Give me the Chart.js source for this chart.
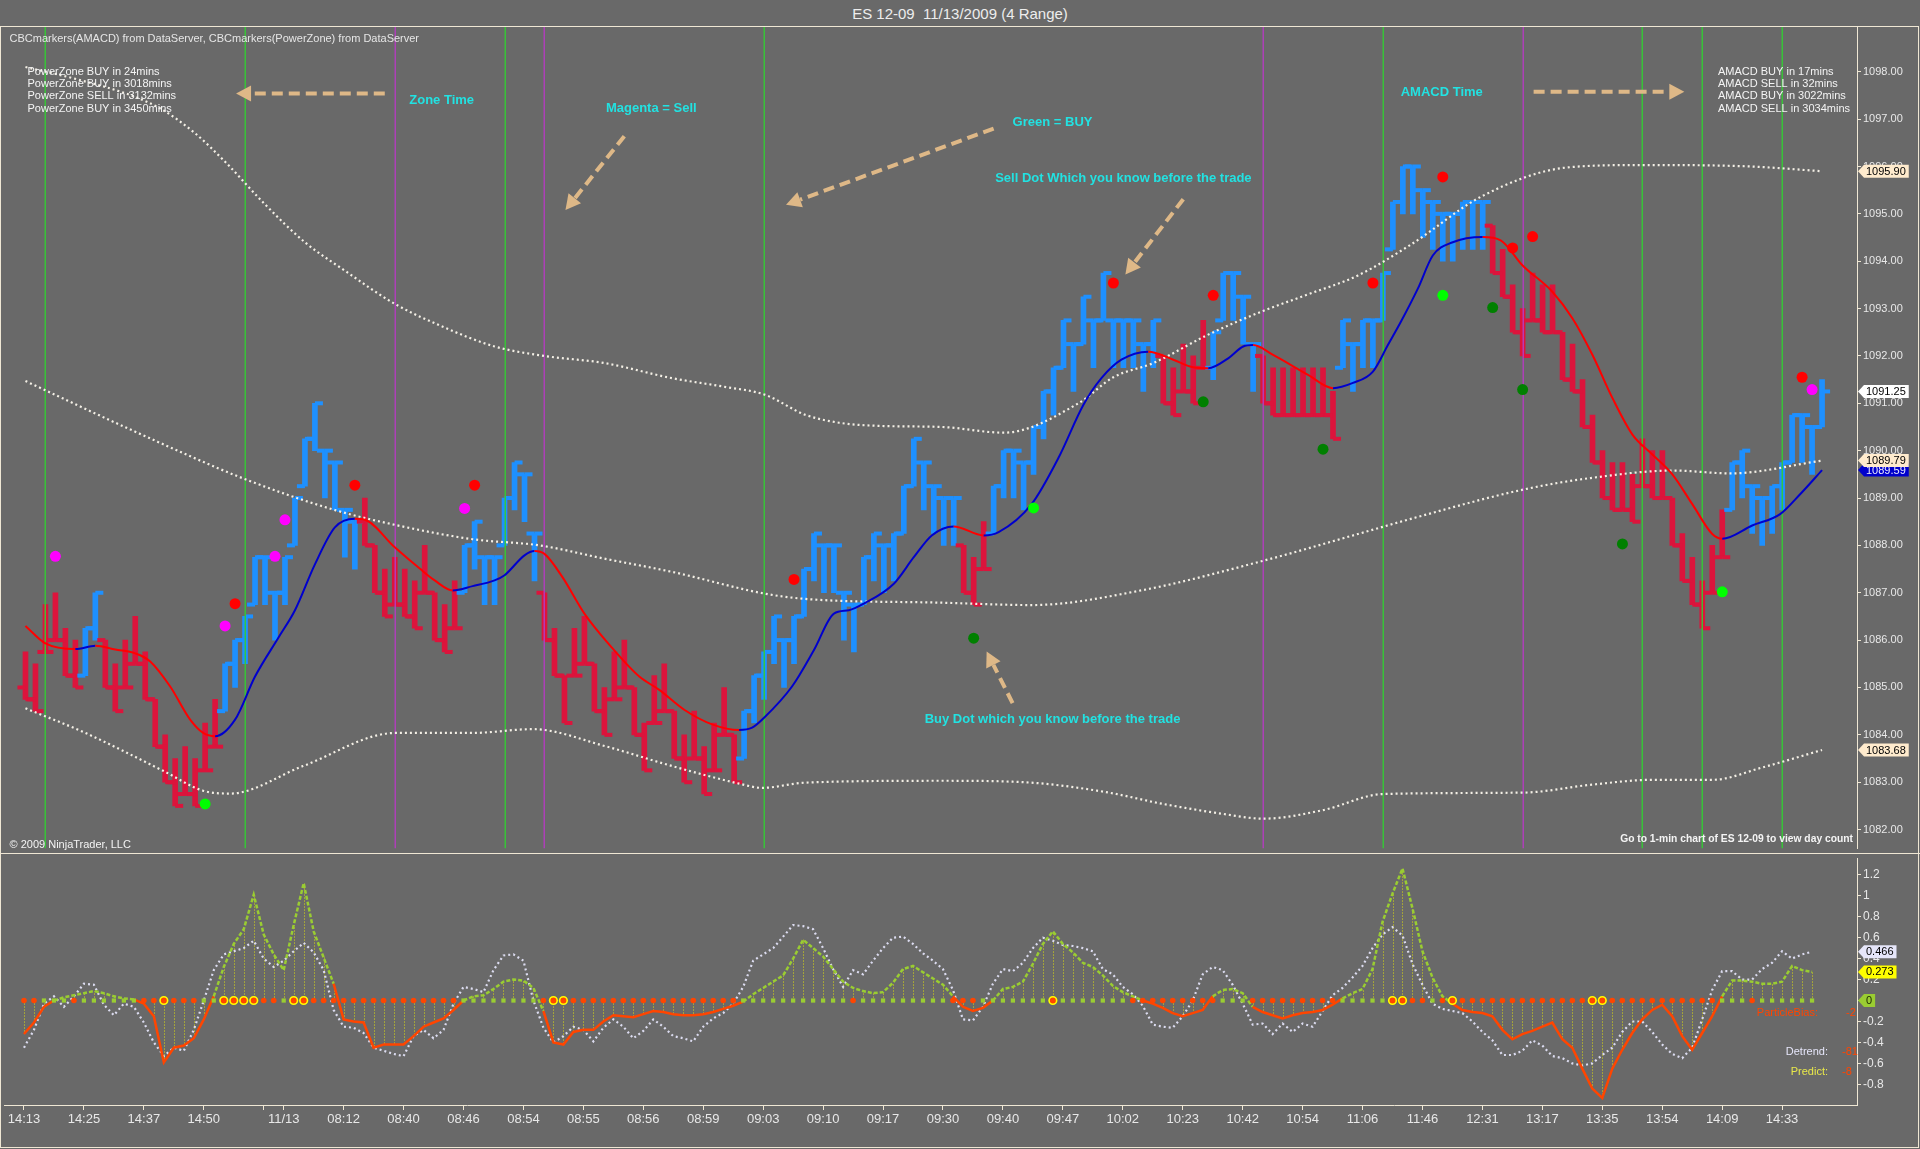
<!DOCTYPE html>
<html>
<head>
<meta charset="utf-8">
<title>ES 12-09 11/13/2009 (4 Range)</title>
<script src="https://cdn.jsdelivr.net/npm/chart.js@4.4.1/dist/chart.umd.min.js"></script>
<style>
  html, body { margin:0; padding:0; width:1920px; height:1149px; background:#696969; overflow:hidden; }
  #title { position:absolute; left:0; top:5px; width:1920px; text-align:center; color:#EDEDED;
           font:15px 'Liberation Sans', Arial, sans-serif; white-space:pre; }
  #frame { position:absolute; left:0; top:26px; width:1919px; height:1122px; box-sizing:border-box; border:1px solid #EFE7D4; }
  #sep { position:absolute; left:0; top:853px; width:1920px; height:1px; background:#EFE7D4; }
  canvas { position:absolute; left:0; }
  #priceCanvas { top:0; }
  #oscCanvas { top:854px; }
</style>
</head>
<body>
<div id="title"></div>
<div id="frame"></div>
<div id="sep"></div>
<canvas id="priceCanvas" width="1920" height="854" style="width:1920px;height:854px"></canvas>
<canvas id="oscCanvas" width="1920" height="295" style="width:1920px;height:295px"></canvas>
<script>
// ---------------- DATA ----------------
const chartTitle = 'ES 12-09  11/13/2009 (4 Range)';
const headerText = 'CBCmarkers(AMACD) from DataServer, CBCmarkers(PowerZone) from DataServer';
const powerZoneLines = ['PowerZone BUY in 24mins', 'PowerZone BUY in 3018mins', 'PowerZone SELL in 3132mins', 'PowerZone BUY in 3450mins'];
const amacdLines = ['AMACD BUY in 17mins', 'AMACD SELL in 32mins', 'AMACD BUY in 3022mins', 'AMACD SELL in 3034mins'];
const copyrightText = '\u00A9 2009 NinjaTrader, LLC';
const goToText = 'Go to 1-min chart of ES 12-09 to view day count';

// 4-range bars: high of every bar, direction (u = up/blue, d = down/red)
const barHigh = [
  1085.75, 1085.5, 1086.75, 1087.0, 1086.25, 1086.0, 1086.25, 1087.0, 1086.0, 1085.5,
  1086.0, 1086.5, 1085.75, 1084.75, 1084.0, 1083.5, 1083.75, 1083.5, 1084.25, 1084.75,
  1085.5, 1086.0, 1086.5, 1087.75, 1087.75, 1087.0, 1087.75, 1089.0, 1090.25, 1091.0,
  1090.0, 1089.75, 1088.75, 1088.5, 1089.0, 1088.0, 1087.5, 1087.75, 1087.5, 1087.25,
  1088.0, 1087.0, 1086.75, 1087.25, 1088.0, 1088.5, 1087.75, 1087.75, 1089.0, 1089.75,
  1089.5, 1088.25, 1087.0, 1086.25, 1085.25, 1086.25, 1086.5, 1085.5, 1085.0, 1085.75,
  1086.0, 1085.0, 1084.25, 1085.25, 1085.5, 1084.5, 1084.0, 1084.5, 1083.75, 1084.25,
  1085.0, 1084.0, 1084.5, 1085.25, 1085.75, 1086.5, 1086.0, 1086.5, 1087.5, 1088.25,
  1088.0, 1088.0, 1087.0, 1086.75, 1087.75, 1088.25, 1088.0, 1088.25, 1089.25, 1090.25,
  1089.75, 1089.25, 1089.0, 1089.0, 1088.0, 1087.75, 1088.5, 1089.25, 1090.0, 1090.0,
  1089.75, 1090.5, 1091.25, 1091.75, 1092.75, 1092.25, 1093.25, 1092.75, 1093.75, 1092.75,
  1092.75, 1092.75, 1092.25, 1092.75, 1092.0, 1091.75, 1092.25, 1092.0, 1092.75, 1092.5,
  1093.75, 1093.75, 1093.25, 1092.25, 1092.0, 1091.75, 1091.75, 1091.75, 1091.75, 1091.75,
  1091.75, 1091.25, 1092.75, 1092.25, 1092.75, 1092.75, 1093.75, 1095.25, 1096.0, 1096.0,
  1095.5, 1095.25, 1095.0, 1095.0, 1095.25, 1095.25, 1095.25, 1094.75, 1094.25, 1093.5,
  1093.0, 1093.75, 1093.5, 1093.5, 1092.5, 1092.25, 1091.5, 1090.75, 1090.0, 1089.75,
  1089.75, 1089.5, 1090.25, 1090.0, 1090.0, 1089.0, 1088.25, 1087.75, 1087.25, 1088.0,
  1088.75, 1089.75, 1090.0, 1089.25, 1089.0, 1089.25, 1089.75, 1090.75, 1090.75, 1090.5,
  1091.5
];
const barDir = [
  'dddddduudd', 'dddddddddd', 'uuuuuuuuuu', 'uuuudddddd', 'dddduuuuuu',
  'uudddddddd', 'dddddddddd', 'dduuuuuuuu', 'uuuuuuuuuu', 'uuuuddduuu',
  'uuuuuuuuuu', 'uuuudddddu', 'uuuudddddd', 'dduuuuuuuu', 'uuuuuuuddd',
  'dddddddddd', 'dddddddddd', 'duuuuuuuuu', 'u'
].join('').split('');
const barRange = 1.0;        // 4 ticks of 0.25
const firstOpen = 1085.0;
const lastClose = 1091.25;

// smoothed trend line (red falling / blue rising)
const maX = [0,2,5,7,9,11,12.5,14.5,16.5,17.8,19,21,23,25.4,27,29,31,33,34,37,39.5,41,42.8,44.8,47,48,50,51,52,53.8,56,58.8,61.5,63.5,66,68.8,71.5,72.8,74,76.8,79,81,82.5,84,87,89,90.8,93,96,97.5,100.8,103.5,106,107.8,109.8,112.5,115,117,118.5,120.5,122,123,125,128.5,131,133,135,136.5,137.8,139.5,141,143,146,147.8,150,153,155,157,159,161,163,165,167,169,170,173,175.8,177.8,180];
const maY = [1086.30,1085.93,1085.81,1085.88,1085.80,1085.72,1085.55,1085.02,1084.32,1084.04,1083.97,1084.32,1085.23,1086.07,1086.63,1087.60,1088.38,1088.56,1088.54,1087.96,1087.51,1087.26,1087.05,1087.14,1087.26,1087.37,1087.79,1087.88,1087.82,1087.33,1086.56,1085.83,1085.23,1084.95,1084.53,1084.22,1084.10,1084.15,1084.36,1085.02,1085.79,1086.56,1086.63,1086.77,1087.19,1087.75,1088.21,1088.40,1088.21,1088.28,1088.87,1089.85,1090.97,1091.53,1091.92,1092.09,1091.92,1091.76,1091.74,1091.95,1092.20,1092.23,1092.02,1091.60,1091.32,1091.43,1091.67,1092.23,1092.72,1093.42,1094.12,1094.40,1094.51,1094.44,1093.91,1093.35,1092.79,1092.02,1091.11,1090.34,1089.92,1089.50,1088.87,1088.24,1088.14,1088.42,1088.66,1089.08,1089.59];

// dotted envelope bands
const ubX = [0,5,10.6,13.7,17,20,24,28,32,37,42,47,52,58,64.8,70,74.1,78.1,81.5,86,91.8,98,105.5,109,113,118.5,124,128.5,133.5,138.8,146,154.5,162,172.8,180];
const ubY = [1098.1,1097.85,1097.5,1097.2,1096.7,1096.1,1095.2,1094.4,1093.8,1093.1,1092.6,1092.2,1092.0,1091.85,1091.53,1091.35,1091.18,1090.76,1090.59,1090.52,1090.5,1090.38,1091.0,1091.55,1091.85,1092.45,1092.95,1093.3,1093.7,1094.35,1095.38,1095.98,1096.03,1096.0,1095.9];
const mbX = [0,11,22.1,31.1,37.1,44.8,51.5,58,64.8,74.1,78.1,91.8,100.8,111.8,124.1,133.5,138.8,150.1,157.1,165.1,170.8,180];
const mbY = [1091.47,1090.4,1089.39,1088.74,1088.43,1088.13,1088.0,1087.72,1087.44,1086.98,1086.87,1086.79,1086.74,1087.05,1087.68,1088.24,1088.56,1089.18,1089.43,1089.58,1089.52,1089.79];
const lbX = [0,6,13.8,17.8,20.5,27.8,37.1,44.8,50.8,58.1,64.8,71.5,73.8,78.1,91.8,100,108,114,120,124,130,136,150,157,163,169,174,180];
const lbY = [1084.56,1084.04,1083.24,1082.82,1082.76,1083.34,1084.04,1084.04,1084.12,1083.76,1083.34,1082.97,1082.88,1082.99,1083.03,1083.0,1082.8,1082.54,1082.33,1082.23,1082.41,1082.75,1082.78,1082.95,1083.05,1083.05,1083.31,1083.68];

// signal dots
const redDotBar = [21, 33, 45, 77, 109, 119, 135, 142, 149, 151, 178];
const redDotY = [1086.77, 1089.27, 1089.27, 1087.28, 1093.54, 1093.28, 1093.54, 1095.78, 1094.28, 1094.52, 1091.55];
const magentaDotBar = [3, 20, 25, 26, 44, 179];
const magentaDotY = [1087.77, 1086.30, 1087.77, 1088.54, 1088.78, 1091.29];
const limeDotBar = [18, 101, 142, 170];
const limeDotY = [1082.54, 1088.79, 1093.28, 1087.02];
const darkGreenDotBar = [95, 118, 130, 147, 150, 160];
const darkGreenDotY = [1086.04, 1091.03, 1090.03, 1093.02, 1091.29, 1088.03];

// time-zone vertical lines
const buyLineBars = [2, 22, 48, 74, 136, 162, 168, 176];
const sellLineBars = [37, 52, 124, 150];

// annotations (bar, price)
const noteText = ['Zone Time', 'Magenta = Sell', 'Green = BUY', 'Sell Dot Which you know before the trade', 'AMACD Time', 'Buy Dot which you know before the trade'];
const noteBar = [41.7, 62.7, 102.9, 110.0, 141.9, 102.9];
const notePrice = [1097.40, 1097.22, 1096.93, 1095.74, 1097.56, 1084.33];
const arrowFromBar = [36.0, 60.0, 97.0, 116.0, 98.9, 151.1];
const arrowFromPrice = [1097.54, 1096.64, 1096.80, 1095.31, 1084.67, 1097.58];
const arrowToBar = [21.1, 54.1, 76.2, 110.2, 96.3, 166.2];
const arrowToPrice = [1097.54, 1095.08, 1095.19, 1093.72, 1085.76, 1097.58];

// oscillator panel (bars 0..179)
const predict = [
 -0.32, -0.21, -0.06, 0.00, 0.03, 0.05, 0.07, 0.09, 0.07, 0.04,
  0.02, 0.01, -0.03, -0.15, -0.59, -0.45, -0.43, -0.36, -0.18, 0.04,
  0.32, 0.54, 0.68, 1.01, 0.63, 0.44, 0.29, 0.72, 1.12, 0.66,
  0.41, 0.16, -0.18, -0.20, -0.21, -0.45, -0.42, -0.42, -0.42, -0.34,
 -0.25, -0.21, -0.17, -0.09, 0.00, 0.04, 0.05, 0.11, 0.18, 0.20,
  0.19, 0.12, -0.10, -0.40, -0.42, -0.30, -0.28, -0.28, -0.20, -0.14,
 -0.15, -0.16, -0.13, -0.10, -0.11, -0.13, -0.14, -0.14, -0.13, -0.11,
 -0.08, -0.05, -0.01, 0.06, 0.12, 0.18, 0.24, 0.40, 0.58, 0.50,
  0.42, 0.30, 0.18, 0.12, 0.09, 0.07, 0.08, 0.17, 0.30, 0.33,
  0.27, 0.21, 0.15, 0.04, -0.06, -0.10, -0.07, 0.00, 0.11, 0.13,
  0.18, 0.35, 0.54, 0.66, 0.54, 0.46, 0.36, 0.32, 0.24, 0.14,
  0.08, 0.04, 0.00, -0.03, -0.07, -0.12, -0.15, -0.12, -0.09, 0.04,
  0.10, 0.11, 0.07, -0.06, -0.11, -0.14, -0.17, -0.14, -0.12, -0.11,
 -0.09, -0.04, 0.02, 0.07, 0.11, 0.30, 0.75, 1.02, 1.26, 0.88,
  0.47, 0.22, 0.04, -0.03, -0.09, -0.11, -0.12, -0.15, -0.28, -0.37,
 -0.32, -0.29, -0.25, -0.21, -0.37, -0.45, -0.65, -0.84, -0.93, -0.65,
 -0.47, -0.31, -0.18, -0.09, -0.04, -0.15, -0.34, -0.47, -0.31, -0.15,
  0.04, 0.19, 0.19, 0.18, 0.16, 0.16, 0.18, 0.33, 0.29, 0.273
];
const detrend = [
 -0.45, -0.28, -0.03, 0.04, -0.06, 0.04, 0.16, 0.15, -0.04, -0.14,
 -0.03, -0.06, -0.21, -0.40, -0.53, -0.45, -0.48, -0.28, 0.00, 0.29,
  0.44, 0.47, 0.50, 0.57, 0.40, 0.32, 0.38, 0.47, 0.55, 0.46,
  0.29, -0.09, -0.25, -0.26, -0.31, -0.45, -0.48, -0.51, -0.53, -0.34,
 -0.28, -0.36, -0.28, -0.03, 0.13, 0.11, 0.08, 0.29, 0.43, 0.44,
  0.38, 0.00, -0.26, -0.40, -0.34, -0.25, -0.28, -0.39, -0.26, -0.18,
 -0.25, -0.36, -0.29, -0.18, -0.25, -0.34, -0.36, -0.39, -0.25, -0.17,
 -0.12, -0.03, 0.13, 0.38, 0.44, 0.50, 0.61, 0.72, 0.71, 0.68,
  0.50, 0.30, 0.13, 0.29, 0.25, 0.38, 0.50, 0.60, 0.61, 0.54,
  0.45, 0.38, 0.30, 0.10, -0.18, -0.19, -0.06, 0.16, 0.30, 0.28,
  0.36, 0.50, 0.60, 0.57, 0.53, 0.52, 0.50, 0.47, 0.30, 0.25,
  0.13, 0.06, -0.05, -0.23, -0.25, -0.26, -0.15, 0.00, 0.25, 0.32,
  0.29, 0.15, -0.03, -0.23, -0.22, -0.32, -0.22, -0.30, -0.22, -0.25,
 -0.10, 0.05, 0.12, 0.22, 0.33, 0.50, 0.63, 0.70, 0.62, 0.35,
  0.15, -0.03, -0.08, -0.10, -0.12, -0.20, -0.30, -0.38, -0.52, -0.52,
 -0.48, -0.38, -0.43, -0.53, -0.55, -0.60, -0.62, -0.60, -0.52, -0.45,
 -0.30, -0.20, -0.20, -0.30, -0.42, -0.51, -0.55, -0.45, -0.18, 0.10,
  0.28, 0.28, 0.20, 0.20, 0.30, 0.36, 0.47, 0.40, 0.44, 0.466
];
// zero-line markers: g = green square, r = orange dot, y = yellow ring
const biasMarks = [
  'rrgggrggggggrryrrrggyyyyrrgyyrrr', 'rrrrrrrrrrrr', 'gggggggg', 'r', 'yy',
  'rrrrrrrrrrrrrrrrr', 'ggggggggggg', 'r', 'ggggggggg', 'rrr', 'ggggggg', 'y',
  'ggggggg', 'rrrrrrrrr', 'ggg', 'rrrrrrrrr', 'ggggg', 'yy', 'rr', 'g', 'r', 'y',
  'rrrrrrrrrrrrr', 'yy', 'rrrrrrrrrrr', 'ggg', 'r', 'gggggg'
].join('').split('');
const zeroLevel = 0;
const oscTexts = ['ParticleBias:', 'Detrend:', 'Predict:'];
const oscValues = ['-2', '-81', '-8'];

// time axis
const xTickBars = [0, 6, 12, 18, 24, 26, 32, 38, 44, 50, 56, 62, 68, 74, 80, 86, 92, 98, 104, 110, 116, 122, 128, 134, 140, 146, 152, 158, 164, 170, 176];
const xTickLabels = ['14:13', '14:25', '14:37', '14:50', '', '11/13', '08:12', '08:40', '08:46', '08:54', '08:55', '08:56', '08:59', '09:03', '09:10', '09:17', '09:30', '09:40', '09:47', '10:02', '10:23', '10:42', '10:54', '11:06', '11:46', '12:31', '13:17', '13:35', '13:54', '14:09', '14:33'];

// ---------------- STYLE ----------------
const FONT = "'Liberation Sans', Arial, sans-serif";
const NARROW = "'Liberation Sans Narrow', 'Liberation Sans', Arial, sans-serif";
const AXIS = '#EFE7D4', LABEL = '#E8E8E8';
const UP = '#1E90FF', DOWN = '#DC143C';
const BAND = '#F4F0E6', MA_UP = '#0000CD', MA_DOWN = '#FF0000';
const BUY_LINE = '#33CC33', SELL_LINE = '#B53CC0';
const NOTE = '#22E2E2', ARROW = '#DEB887';
const PRED_POS = '#9ACD32', PRED_NEG = '#FF4500', DETREND = '#DCDCF0', STEM = '#F2F200';
const X_MIN = -2.0, X_MAX = 183.5;
const Y1_MIN = 1081.60, Y1_MAX = 1098.945;
const Y2_MIN = -0.997, Y2_MAX = 1.36;
const TICK_LEN = 8, TICK_W = 4;

document.getElementById('title').textContent = chartTitle;

// ---------------- DERIVED (range-bar structure) ----------------
const barLow = barHigh.map(h => h - barRange);
const barClose = barHigh.map((h, i) => i === barHigh.length - 1 ? lastClose : (barDir[i] === 'u' ? h : barLow[i]));
const barOpen = barHigh.map((h, i) => {
  const prev = i === 0 ? firstOpen : barClose[i - 1];
  return Math.min(h, Math.max(barLow[i], prev));
});
const pts = (xs, ys) => xs.map((x, i) => ({ x: x, y: ys[i] }));
const oscBars = predict.map((_, i) => i);

Chart.defaults.font.family = FONT;

// ---------------- helpers ----------------
function drawTag(ctx, x0, yPix, text, bg, fg) {
  ctx.font = '11px ' + FONT;
  const w = ctx.measureText(text).width + 5;
  const h = 13;
  ctx.beginPath();
  ctx.moveTo(x0 + 1, yPix);
  ctx.lineTo(x0 + 7, yPix - h / 2);
  ctx.lineTo(x0 + 7 + w, yPix - h / 2);
  ctx.lineTo(x0 + 7 + w, yPix + h / 2);
  ctx.lineTo(x0 + 7, yPix + h / 2);
  ctx.closePath();
  ctx.fillStyle = bg; ctx.fill();
  ctx.fillStyle = fg; ctx.textAlign = 'left'; ctx.textBaseline = 'middle';
  ctx.fillText(text, x0 + 9, yPix + 0.5);
}
function drawArrow(ctx, x1, y1, x2, y2) {
  const ang = Math.atan2(y2 - y1, x2 - x1);
  const headLen = 15, headW = 8;
  const bx = x2 - headLen * Math.cos(ang), by = y2 - headLen * Math.sin(ang);
  ctx.save();
  ctx.strokeStyle = ARROW; ctx.fillStyle = ARROW;
  ctx.lineWidth = 4; ctx.setLineDash([11, 6]);
  ctx.beginPath(); ctx.moveTo(x1, y1); ctx.lineTo(bx, by); ctx.stroke();
  ctx.setLineDash([]);
  ctx.beginPath();
  ctx.moveTo(x2, y2);
  ctx.lineTo(bx + headW * Math.sin(ang), by - headW * Math.cos(ang));
  ctx.lineTo(bx - headW * Math.sin(ang), by + headW * Math.cos(ang));
  ctx.closePath(); ctx.fill();
  ctx.restore();
}

// ---------------- PRICE PANEL ----------------
const priceOverlay = {
  id: 'priceOverlay',
  afterDatasetDraw(chart, args) {
    if (args.index !== 0) return;
    const { ctx, chartArea: a, scales: { x, y } } = chart;
    ctx.save();
    ctx.beginPath(); ctx.rect(a.left, a.top, a.right - a.left, a.bottom - a.top); ctx.clip();
    for (let i = 0; i < barHigh.length; i++) {
      const px = x.getPixelForValue(i);
      ctx.fillStyle = barDir[i] === 'u' ? UP : DOWN;
      const yo = y.getPixelForValue(barOpen[i]);
      const yc = y.getPixelForValue(barClose[i]);
      ctx.fillRect(px - TICK_LEN, yo - TICK_W / 2, TICK_LEN, TICK_W);
      ctx.fillRect(px, yc - TICK_W / 2, TICK_LEN, TICK_W);
    }
    ctx.globalAlpha = 0.9;
    ctx.lineWidth = 1.5;
    const vline = (b, color) => {
      const px = Math.round(x.getPixelForValue(b)) + 0.25;
      ctx.strokeStyle = color;
      ctx.beginPath(); ctx.moveTo(px, a.top); ctx.lineTo(px, a.bottom); ctx.stroke();
    };
    buyLineBars.forEach(b => vline(b, BUY_LINE));
    sellLineBars.forEach(b => vline(b, SELL_LINE));
    ctx.restore();
  },
  afterDraw(chart) {
    const { ctx, chartArea: a, scales: { x, y } } = chart;
    ctx.save();
    // header / info texts
    ctx.textAlign = 'left'; ctx.textBaseline = 'middle';
    ctx.font = '11px ' + FONT; ctx.fillStyle = '#E6E6E6';
    ctx.fillText(headerText, a.left + 4, a.top + 12);
    ctx.fillStyle = '#F4F4F4';
    powerZoneLines.forEach((t, k) => ctx.fillText(t, a.left + 22, 72 + k * 12.2));
    amacdLines.forEach((t, k) => ctx.fillText(t, a.right - 139, 72 + k * 12.2));
    ctx.fillText(copyrightText, a.left + 4, a.bottom - 4);
    ctx.font = 'bold 10.3px ' + FONT; ctx.textAlign = 'right';
    ctx.fillText(goToText, a.right - 4, a.bottom - 9);
    // arrows
    for (let k = 0; k < arrowFromBar.length; k++) {
      drawArrow(ctx, x.getPixelForValue(arrowFromBar[k]), y.getPixelForValue(arrowFromPrice[k]),
                x.getPixelForValue(arrowToBar[k]), y.getPixelForValue(arrowToPrice[k]));
    }
    // notes
    ctx.font = 'bold 13px ' + FONT; ctx.fillStyle = NOTE; ctx.textAlign = 'center'; ctx.textBaseline = 'middle';
    noteText.forEach((t, k) => ctx.fillText(t, x.getPixelForValue(noteBar[k]), y.getPixelForValue(notePrice[k])));
    // right-axis value tags
    const xr = a.right;
    drawTag(ctx, xr, y.getPixelForValue(ubY[ubY.length - 1]), ubY[ubY.length - 1].toFixed(2), '#FFEBCD', '#000');
    drawTag(ctx, xr, y.getPixelForValue(lastClose), lastClose.toFixed(2), '#FFFFFF', '#000');
    drawTag(ctx, xr, y.getPixelForValue(maY[maY.length - 1]), maY[maY.length - 1].toFixed(2), MA_UP, '#E8E8FF');
    drawTag(ctx, xr, y.getPixelForValue(mbY[mbY.length - 1]), mbY[mbY.length - 1].toFixed(2), '#FFEBCD', '#000');
    drawTag(ctx, xr, y.getPixelForValue(lbY[lbY.length - 1]), lbY[lbY.length - 1].toFixed(2), '#FFEBCD', '#000');
    ctx.restore();
  }
};

const bandStyle = { type: 'line', borderColor: BAND, borderWidth: 2.2, borderDash: [2, 3], pointRadius: 0, cubicInterpolationMode: 'monotone', fill: false, order: 8 };
const dotStyle = (color) => ({ type: 'line', showLine: false, pointRadius: 5.5, pointBorderWidth: 0, pointBackgroundColor: color, pointBorderColor: color, order: 1 });

new Chart(document.getElementById('priceCanvas'), {
  type: 'bar',
  data: {
    datasets: [
      { type: 'bar', data: barHigh.map((h, i) => ({ x: i, y: [barLow[i], h] })),
        backgroundColor: barDir.map(d => d === 'u' ? UP : DOWN), borderWidth: 0, barThickness: 5, order: 10 },
      Object.assign({ data: pts(ubX, ubY) }, bandStyle),
      Object.assign({ data: pts(mbX, mbY) }, bandStyle),
      Object.assign({ data: pts(lbX, lbY) }, bandStyle),
      { type: 'line', data: pts(maX, maY), borderColor: MA_DOWN, borderWidth: 2, pointRadius: 0,
        cubicInterpolationMode: 'monotone', order: 3,
        segment: { borderColor: c => c.p1.parsed.y >= c.p0.parsed.y ? MA_UP : MA_DOWN } },
      Object.assign({ data: pts(redDotBar, redDotY) }, dotStyle('#FF0000')),
      Object.assign({ data: pts(magentaDotBar, magentaDotY) }, dotStyle('#FF00FF')),
      Object.assign({ data: pts(limeDotBar, limeDotY) }, dotStyle('#00FF00')),
      Object.assign({ data: pts(darkGreenDotBar, darkGreenDotY) }, dotStyle('#008000'))
    ]
  },
  options: {
    responsive: false, devicePixelRatio: 1, animation: false, events: [],
    layout: { padding: { left: 2, top: 27, right: 0, bottom: 1 } },
    plugins: { legend: { display: false }, tooltip: { enabled: false } },
    scales: {
      x: { type: 'linear', min: X_MIN, max: X_MAX, offset: false, display: false },
      y: { type: 'linear', position: 'right', min: Y1_MIN, max: Y1_MAX,
           afterFit: s => { s.width = 63; s.paddingTop = 0; s.paddingBottom = 0; },
           grid: { display: true, drawOnChartArea: false, drawTicks: true, tickLength: 4, color: AXIS },
           border: { display: true, color: AXIS, width: 1 },
           ticks: { stepSize: 1, includeBounds: false, padding: 2, color: LABEL, font: { size: 11 },
                    callback: v => Number(v).toFixed(2) } }
    }
  },
  plugins: [priceOverlay]
});

// ---------------- OSCILLATOR PANEL ----------------
const oscOverlay = {
  id: 'oscOverlay',
  beforeDatasetsDraw(chart) {
    const { ctx, chartArea: a, scales: { x, y } } = chart;
    ctx.save();
    ctx.beginPath(); ctx.rect(a.left, a.top, a.right - a.left, a.bottom - a.top); ctx.clip();
    ctx.strokeStyle = STEM; ctx.lineWidth = 1; ctx.setLineDash([1, 2]); ctx.globalAlpha = 0.85;
    const y0 = y.getPixelForValue(zeroLevel);
    predict.forEach((v, i) => {
      const px = Math.round(x.getPixelForValue(oscBars[i])) + 0.5;
      ctx.beginPath(); ctx.moveTo(px, y0); ctx.lineTo(px, y.getPixelForValue(v)); ctx.stroke();
    });
    ctx.restore();
  },
  afterDraw(chart) {
    const { ctx, chartArea: a, scales: { y } } = chart;
    ctx.save();
    ctx.font = '11px ' + NARROW; ctx.textBaseline = 'middle';
    const colors = ['#FF4500', '#E6E6FA', '#E8E84A'];
    const ends = [a.right - 39, a.right - 29, a.right - 29];
    const rows = [159, 198, 218];
    oscTexts.forEach((t, k) => {
      ctx.textAlign = 'right'; ctx.fillStyle = colors[k];
      ctx.fillText(t, ends[k], rows[k]);
      ctx.textAlign = 'left'; ctx.fillStyle = '#FF4500';
      ctx.fillText(oscValues[k], k === 0 ? a.right - 11 : a.right - 15, rows[k]);
    });
    const xr = a.right;
    drawTag(ctx, xr, y.getPixelForValue(detrend[detrend.length - 1]), detrend[detrend.length - 1].toFixed(3), '#E6E6FA', '#000');
    drawTag(ctx, xr, y.getPixelForValue(predict[predict.length - 1]), predict[predict.length - 1].toFixed(3), '#FFFF00', '#000');
    drawTag(ctx, xr, y.getPixelForValue(zeroLevel), String(zeroLevel), '#9ACD32', '#1A2A00');
    ctx.restore();
  }
};

new Chart(document.getElementById('oscCanvas'), {
  type: 'line',
  data: {
    datasets: [
      { data: pts(oscBars, detrend), borderColor: DETREND, borderWidth: 2.2, borderDash: [2, 3], pointRadius: 0, tension: 0, order: 3 },
      { data: pts(oscBars, predict), borderColor: PRED_POS, borderWidth: 2.5, pointRadius: 0, tension: 0, order: 2,
        segment: {
          borderColor: c => (c.p0.parsed.y + c.p1.parsed.y) / 2 >= 0 ? PRED_POS : PRED_NEG,
          borderDash: c => (c.p0.parsed.y + c.p1.parsed.y) / 2 >= 0 ? [4, 2] : []
        } },
      { data: oscBars.map(i => ({ x: i, y: zeroLevel })), showLine: false, order: 1,
        pointStyle: biasMarks.map(m => m === 'g' ? 'rect' : 'circle'),
        pointRadius: biasMarks.map(m => m === 'g' ? 3 : (m === 'y' ? 3.8 : 2.8)),
        pointBackgroundColor: biasMarks.map(m => m === 'g' ? '#9ACD32' : '#FF4500'),
        pointBorderColor: biasMarks.map(m => m === 'y' ? '#FFFF00' : (m === 'g' ? '#9ACD32' : '#FF4500')),
        pointBorderWidth: biasMarks.map(m => m === 'y' ? 1.6 : 0) }
    ]
  },
  options: {
    responsive: false, devicePixelRatio: 1, animation: false, events: [],
    layout: { padding: { left: 2, top: 0, right: 0, bottom: 0 } },
    plugins: { legend: { display: false }, tooltip: { enabled: false } },
    scales: {
      x: { type: 'linear', min: X_MIN, max: X_MAX, offset: false,
           afterFit: s => { s.height = 44; s.paddingLeft = 0; s.paddingRight = 0; },
           afterBuildTicks: s => { s.ticks = xTickBars.map(v => ({ value: v })); },
           grid: { display: true, drawOnChartArea: false, drawTicks: true, tickLength: 5, color: AXIS },
           border: { display: true, color: AXIS, width: 1 },
           ticks: { autoSkip: false, maxRotation: 0, minRotation: 0, padding: 2, color: LABEL,
                    font: { size: 13, family: NARROW },
                    callback: (v, idx) => xTickLabels[idx] } },
      y: { type: 'linear', position: 'right', min: Y2_MIN, max: Y2_MAX,
           afterFit: s => { s.width = 63; s.paddingTop = 0; s.paddingBottom = 0; },
           grid: { display: true, drawOnChartArea: false, drawTicks: true, tickLength: 4, color: AXIS },
           border: { display: true, color: AXIS, width: 1 },
           ticks: { stepSize: 0.2, includeBounds: false, padding: 2, color: LABEL, font: { size: 12 },
                    callback: v => Math.abs(v) < 1e-6 ? '' : String(Number(Number(v).toFixed(1))) } }
    }
  },
  plugins: [oscOverlay]
});
</script>
</body>
</html>
